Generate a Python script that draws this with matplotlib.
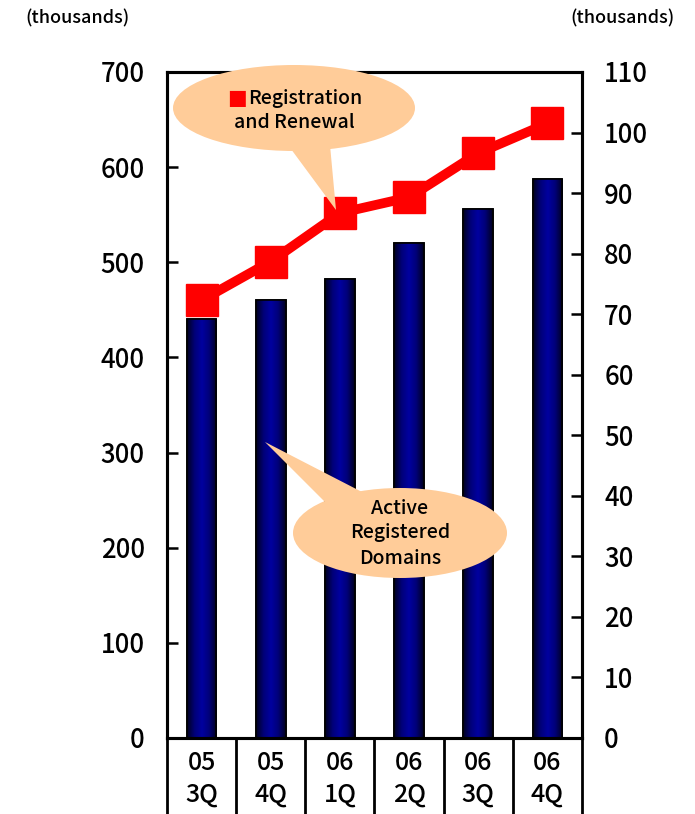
import numpy as np
import matplotlib
matplotlib.use("Agg")
import matplotlib.pyplot as plt
from matplotlib.patches import Ellipse, Polygon
from matplotlib.colors import LinearSegmentedColormap

plt.rcParams['font.family'] = ['Noto Sans CJK JP', 'DejaVu Sans']
plt.rcParams['font.weight'] = 'medium'

# ---- data ----
years = ["05", "05", "06", "06", "06", "06"]
quarters = ["3Q", "4Q", "1Q", "2Q", "3Q", "4Q"]
active_domains = [440, 460, 482, 520, 556, 588]          # left axis (thousands)
reg_renewal = [72.3, 78.7, 86.7, 89.3, 96.6, 101.5]      # right axis (thousands)
left_ticks = [0, 100, 200, 300, 400, 500, 600, 700]
right_ticks = [0, 10, 20, 30, 40, 50, 60, 70, 80, 90, 100, 110]

W, H = 695, 814
fig = plt.figure(figsize=(W / 100, H / 100), dpi=100)
ax = fig.add_axes([167 / W, 1 - 738 / H, (582 - 167) / W, (738 - 72) / H])
ax2 = ax.twinx()

x = np.arange(len(active_domains))
bw = 0.43
bars = ax.bar(x, active_domains, width=bw, color='#000080', edgecolor='black',
              linewidth=1.2, zorder=2)

# horizontal gradient fill for each bar
cmap = LinearSegmentedColormap.from_list('bar', ['#000020', '#000078', '#0000A0', '#000078', '#000020'])
grad = np.linspace(0, 1, 64).reshape(1, -1)
for b in bars:
    x0, y0, w, h = b.get_x(), b.get_y(), b.get_width(), b.get_height()
    im = ax.imshow(grad, cmap=cmap, extent=[x0, x0 + w, y0, y0 + h],
                   aspect='auto', zorder=2.1, interpolation='bicubic')
    im.set_clip_path(b)
    ax.add_patch(plt.Rectangle((x0, y0), w, h, fill=False, edgecolor='black',
                               linewidth=1.2, zorder=2.2))

ax.set_xlim(-0.5, len(x) - 0.5)
ax.set_ylim(0, 700)
ax2.set_ylim(0, 110)

ax2.plot(x, reg_renewal, color='#FF0000', linewidth=7, marker='s',
         markersize=23, markerfacecolor='#FF0000', markeredgecolor='#FF0000',
         zorder=5, solid_joinstyle='miter')

# ticks
ax.set_yticks(left_ticks)
ax.set_yticklabels([str(v) for v in left_ticks], fontsize=18.5)
ax2.set_yticks(right_ticks)
ax2.set_yticklabels([str(v) for v in right_ticks], fontsize=18.5)
ax.tick_params(axis='y', direction='in', length=8, width=1.8, pad=16)
ax2.tick_params(axis='y', direction='in', length=8, width=1.8, pad=16)

# x: boundaries as long ticks, labels at centers
ax.set_xticks(np.arange(-0.5, len(x), 1.0))
ax.set_xticklabels([])
ax.tick_params(axis='x', which='major', direction='out', length=70, width=2)
ax.set_xticks(x, minor=True)
ax.set_xticklabels([f"{a}\n{b}" for a, b in zip(years, quarters)], minor=True,
                   fontsize=18, linespacing=1.25)
ax.tick_params(axis='x', which='minor', length=0, pad=9)

for a in (ax, ax2):
    for s in a.spines.values():
        s.set_linewidth(2.2)

ax.set_zorder(1)
ax2.set_zorder(2)
ax2.patch.set_visible(False)
tr = fig.transFigure
def fx(px):
    return px / W
def fy(py):
    return 1 - py / H

# bubble 1: Registration and Renewal
tail1 = Polygon([(fx(288), fy(145)), (fx(330), fy(145)), (fx(336), fy(210))],
                closed=True, transform=tr, facecolor='#FFCC99', edgecolor='none', zorder=10)
ell1 = Ellipse((fx(294), fy(108)), 242 / W, 86 / H, transform=tr,
               facecolor='#FFCC99', edgecolor='none', zorder=10)
for p in (tail1, ell1):
    fig.patches.append(p)
fig.text(fx(237), fy(98), "\u25A0", color='#FF0000', fontsize=15, ha='center',
         va='center', family=['DejaVu Sans'], zorder=11)
fig.text(fx(305), fy(98), "Registration", fontsize=14, ha='center', va='center', zorder=11)
fig.text(fx(294), fy(122), "and Renewal", fontsize=14, ha='center', va='center', zorder=11)

# bubble 2: Active Registered Domains
tail2 = Polygon([(fx(265), fy(442)), (fx(362), fy(492)), (fx(325), fy(502))],
                closed=True, transform=tr, facecolor='#FFCC99', edgecolor='none', zorder=10)
ell2 = Ellipse((fx(400), fy(533)), 214 / W, 90 / H, transform=tr,
               facecolor='#FFCC99', edgecolor='none', zorder=10)
for p in (tail2, ell2):
    fig.patches.append(p)
fig.text(fx(400), fy(508), "Active", fontsize=14, ha='center', va='center', zorder=11)
fig.text(fx(400), fy(533), "Registered", fontsize=14, ha='center', va='center', zorder=11)
fig.text(fx(400), fy(558), "Domains", fontsize=14, ha='center', va='center', zorder=11)

# axis unit labels
fig.text(fx(25), fy(18), "(thousands)", fontsize=13, ha='left', va='center')
fig.text(fx(675), fy(18), "(thousands)", fontsize=13, ha='right', va='center')

fig.savefig("out.png", dpi=100)
